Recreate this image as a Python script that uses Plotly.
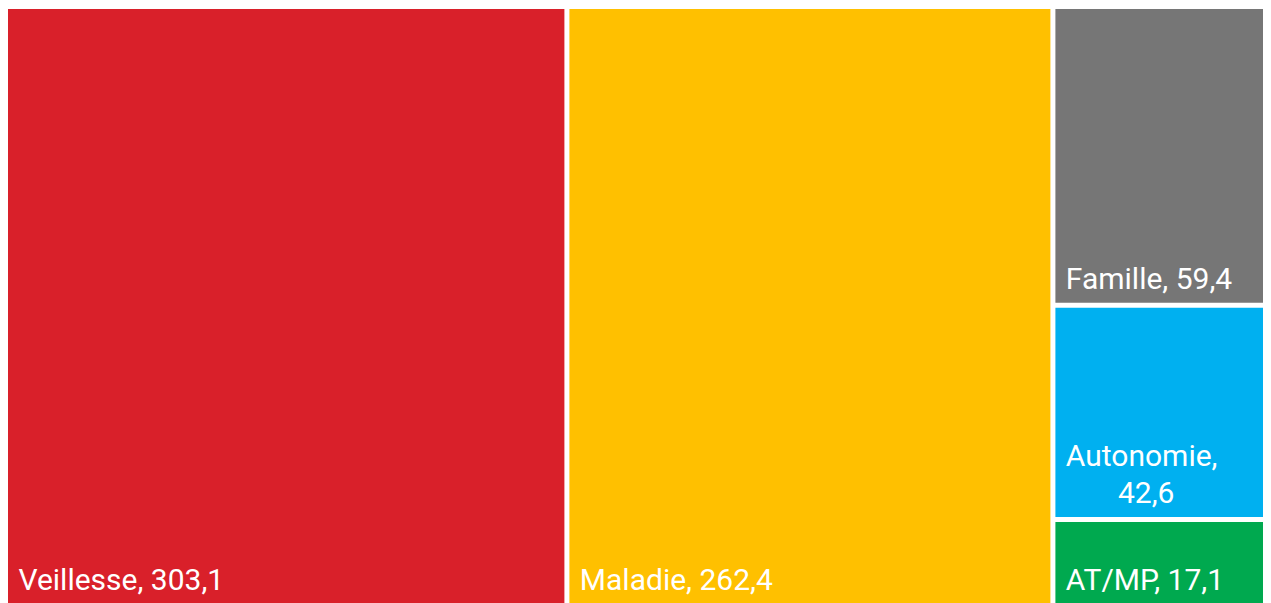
import plotly.graph_objects as go

labels = ["Veillesse", "Maladie", "Famille", "Autonomie", "AT/MP"]
values = [303.1, 262.4, 59.4, 42.6, 17.1]
colors = ["#D9202A", "#FFC000", "#767676", "#00B0F0", "#00A94F"]
wrap = [False, False, False, True, False]

NB = "\u00a0"
BIG = "<span style='font-size:30px'>{}</span>"

def fmt(v):
    return f"{v:.1f}".replace(".", ",")

texts = []
base_sizes = []
for lab, v, w in zip(labels, values, wrap):
    if w:
        t = (BIG.format(f"{NB}{lab},") + f"<br>{NB}<br>{NB}<br>{NB}<br>"
             + BIG.format(f"{NB * 8}{fmt(v)}"))
        base_sizes.append(7)
    else:
        t = BIG.format(f"{NB}{lab}, {fmt(v)}")
        base_sizes.append(6.5)
    texts.append(t + "<br>" + NB)

fig = go.Figure(go.Treemap(
    labels=labels,
    parents=[""] * len(labels),
    values=values,
    text=texts,
    texttemplate="%{text}",
    textposition="bottom left",
    textfont=dict(family="Roboto", size=base_sizes, color="white"),
    marker=dict(colors=colors, line=dict(width=0), pad=dict(t=0, l=0, r=0, b=0)),
    tiling=dict(pad=5),
    pathbar=dict(visible=False),
    sort=True,
    hoverinfo="skip",
))
fig.update_layout(
    width=1263, height=595,
    margin=dict(l=0, r=0, t=1, b=0),
    paper_bgcolor="white",
)
fig.write_html("out.html")
